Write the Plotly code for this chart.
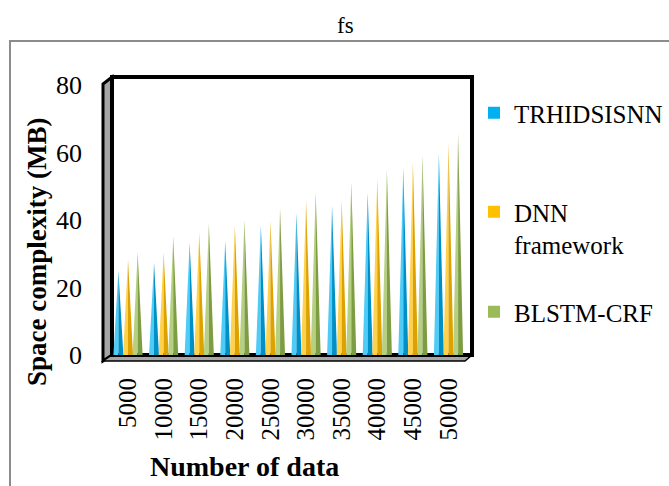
import plotly.graph_objects as go

categories = ["5000", "10000", "15000", "20000", "25000", "30000", "35000", "40000", "45000", "50000"]
trhidsisnn = [25.0, 27.4, 33.3, 33.9, 38.4, 42.0, 44.3, 48.2, 55.4, 59.8]
dnn = [28.3, 30.4, 36.3, 38.4, 39.9, 45.8, 45.8, 52.4, 57.1, 62.8]
blstm = [30.4, 35.1, 39.0, 39.9, 43.5, 48.2, 51.2, 54.8, 59.2, 65.8]
series_names = ["TRHIDSISNN", "DNN<br>framework", "BLSTM-CRF"]

W, H = 669, 486
L, R, T, B = 112, 472, 77, 355
PW, PH = R - L, B - T


def px(x):
    return (x - L) / PW


def py(y):
    return (B - y) / PH


FONT = "Liberation Serif"
series = [
    (trhidsisnn, -0.27, "#00B0F0", "#4FCBF7", "#0090C8"),
    (dnn, 0.0, "#FFC000", "#FFD24D", "#DDA200"),
    (blstm, 0.27, "#9BBB59", "#B5CF83", "#7E9C42"),
]
HW = 0.14

fig = go.Figure()
for vals, off, base, light, dark in series:
    for side, col in (("l", light), ("r", dark)):
        xs, ys = [], []
        for i, v in enumerate(vals):
            c = i + off
            if side == "l":
                xs += [c - HW, c, c, None]
                ys += [0, v, 0, None]
            else:
                xs += [c, c + HW, c, None]
                ys += [v, 0, 0, None]
        fig.add_trace(go.Scatter(x=xs, y=ys, mode="lines", fill="toself",
                                 fillcolor=col, line=dict(width=0, color=col),
                                 hoverinfo="skip", showlegend=False))

legend_ids = ["legend", "legend2", "legend3"]
for (vals, off, base, light, dark), name, lid in zip(series, series_names, legend_ids):
    fig.add_trace(go.Bar(x=[None], y=[None], name=name, marker=dict(color=base, line=dict(width=0)),
                         legend=lid, showlegend=True))

leg_common = dict(xanchor="left", yanchor="middle", bgcolor="rgba(0,0,0,0)",
                  font=dict(family=FONT, size=25, color="black"), valign="top")
lx = px(474)

shapes = [
    dict(type="rect", xref="paper", yref="paper", x0=px(10), y0=py(41), x1=px(720), y1=py(540),
         line=dict(color="#8c8c8c", width=2), fillcolor="rgba(0,0,0,0)", layer="below"),
    dict(type="path", xref="paper", yref="paper",
         path=f"M {px(103)},{py(84)} L {px(112)},{py(77)} L {px(112)},{py(355)} L {px(103)},{py(361)} Z",
         fillcolor="#a6a6a6", line=dict(color="black", width=3), layer="below"),
    dict(type="path", xref="paper", yref="paper",
         path=f"M {px(103)},{py(361)} L {px(112)},{py(355)} L {px(472)},{py(355)} L {px(465)},{py(361)} Z",
         fillcolor="#a6a6a6", line=dict(color="black", width=1.5), layer="below"),
    dict(type="rect", xref="paper", yref="paper", x0=0, y0=0, x1=1, y1=1,
         line=dict(color="black", width=4), fillcolor="rgba(0,0,0,0)", layer="below"),
]

annotations = [
    dict(text="fs", xref="paper", yref="paper", x=px(345), y=py(25), showarrow=False,
         xanchor="center", yanchor="middle", font=dict(family=FONT, size=23, color="black")),
    dict(text="<b>Space complexity (MB)</b>", xref="paper", yref="paper", x=px(37), y=py(252),
         textangle=-90, showarrow=False, xanchor="center", yanchor="middle",
         font=dict(family=FONT, size=27, color="black")),
    dict(text="<b>Number of data</b>", xref="paper", yref="paper", x=px(244), y=py(466),
         showarrow=False, xanchor="center", yanchor="middle",
         font=dict(family=FONT, size=28, color="black")),
]

fig.update_layout(
    width=W, height=H,
    margin=dict(l=L, r=W - R, t=T, b=H - B, pad=0, autoexpand=False),
    paper_bgcolor="white", plot_bgcolor="white",
    font=dict(family=FONT, color="black"),
    xaxis=dict(range=[-0.45, 9.66], tickmode="array", tickvals=list(range(len(categories))),
               ticktext=categories, tickangle=-90, showgrid=False, zeroline=False,
               showline=False, ticks="", ticklabelstandoff=17, automargin=False,
               tickfont=dict(family=FONT, size=25, color="black"), fixedrange=True),
    yaxis=dict(range=[0, 82.4], tickvals=[0, 20, 40, 60, 80], showgrid=False, zeroline=False,
               showline=False, ticks="", ticklabelstandoff=29, automargin=False,
               tickfont=dict(family=FONT, size=26, color="black"), fixedrange=True),
    legend=dict(x=lx, y=py(113), **leg_common),
    legend2=dict(x=lx, y=py(228), **leg_common),
    legend3=dict(x=lx, y=py(312), **leg_common),
    shapes=shapes,
    annotations=annotations,
    showlegend=True,
)

fig.write_html("out.html")
